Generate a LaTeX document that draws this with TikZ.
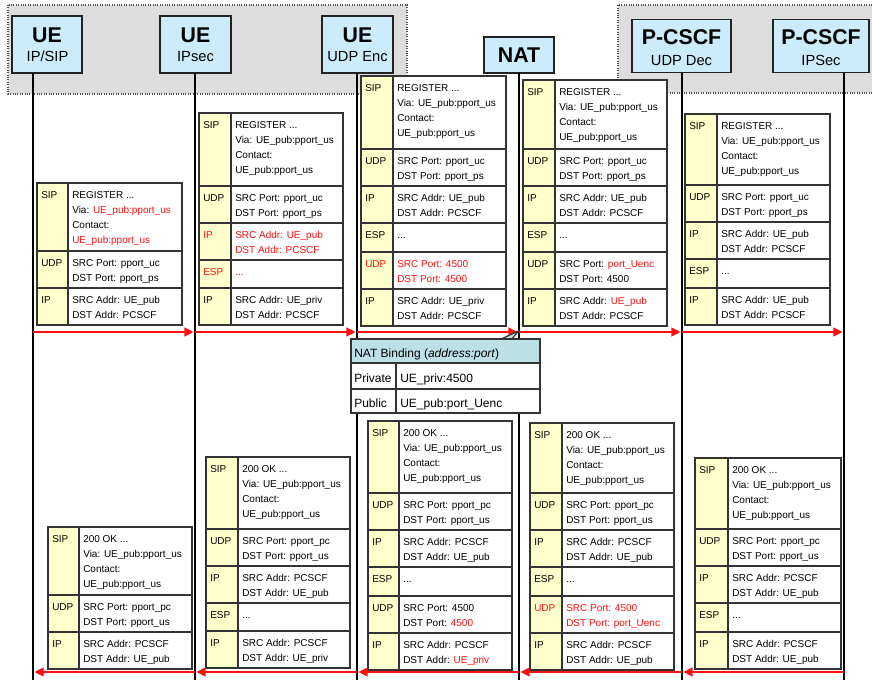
\documentclass[tikz,border=0pt]{standalone}
\usepackage{fontspec}
\setmainfont{Liberation Sans}
\usetikzlibrary{arrows.meta}

\definecolor{hdrblue}{HTML}{CCECFB}
\definecolor{hdrline}{HTML}{222222}
\definecolor{zonegray}{HTML}{DDDDDD}
\definecolor{zoneline}{HTML}{555555}
\definecolor{labyellow}{HTML}{FFFFCC}
\definecolor{cellline}{HTML}{333333}
\definecolor{msgred}{HTML}{FF1010}
\definecolor{natteal}{HTML}{BCE0E4}

\newcommand\pktfont{\fontsize{7.5}{9}\selectfont}
\newcommand\rd[1]{\textcolor{msgred}{#1}}
\newcommand\ddd{...}
\newcount\txtno

% column edges of the packet box being drawn: left, label/content split, right
\newcommand\pktcols[3]{\def\pxl{#1}\def\pxm{#2}\def\pxr{#3}}
% one protocol layer: top, bottom, text style, layer name, content lines
\newcommand\prow[5]{%
  \path[labcell] (\pxl,#1) rectangle (\pxm,#2);
  \path[txtcell] (\pxm,#1) rectangle (\pxr,#2);
  \global\advance\txtno by 1
  \node[pkttext,#3] (txt\the\txtno) at (\pxl+4,#1+16) {#4};
  \foreach \pline [count=\i from 0] in {#5}{%
    \global\advance\txtno by 1
    \node[pkttext,#3] (txt\the\txtno) at (\pxm+4,#1+16+15*\i) {\pline};
  }%
}

\tikzset{
  zone/.style={fill=zonegray, draw=zoneline, line width=0.8pt, densely dotted},
  zoneedge/.style={draw=zoneline, line width=0.8pt, densely dotted},
  hdr/.style={draw=hdrline, line width=1.1pt, fill=hdrblue, inner sep=0pt},
  ttl/.style={anchor=base, inner sep=0pt, font=\bfseries\fontsize{16}{18}\selectfont},
  sub/.style={anchor=base, inner sep=0pt, font=\fontsize{11}{13}\selectfont},
  life/.style={draw=black, line width=1.3pt},
  msg/.style={draw=msgred, line width=2pt, -{Triangle[length=7pt,width=6.5pt]}, shorten >=1pt},
  labcell/.style={draw=cellline, line width=0.9pt, fill=labyellow},
  txtcell/.style={draw=cellline, line width=0.9pt, fill=white},
  pkttext/.style={anchor=base west, inner sep=0pt, font=\pktfont},
  hot/.style={text=msgred},
  natcell/.style={draw=cellline, line width=0.9pt, fill=white},
  nattext/.style={anchor=base west, inner sep=0pt, font=\fontsize{9}{11}\selectfont},
}

\begin{document}
\begin{tikzpicture}[x=0.75pt, y=-0.75pt]
\useasboundingbox (0,0) rectangle (872,680);

% client side and server side groupings
\path[zone] (8,5) rectangle (407,94);
\fill[zonegray] (618,5) rectangle (872,93);
\path[zoneedge] (872,5) -- (618,5) -- (618,93) -- (872,93);

% entities
\node[hdr, minimum width=52.5pt, minimum height=42.75pt] (ue1) at (47,44.5) {};
\node[hdr, minimum width=53.25pt, minimum height=42.75pt] (ue2) at (195.5,44.5) {};
\node[hdr, minimum width=53.25pt, minimum height=42.75pt] (ue3) at (357.5,44.5) {};
\node[hdr, minimum width=52.5pt, minimum height=27pt] (nat) at (519,55) {};
\node[hdr, minimum width=74.25pt, minimum height=40pt] (pc1) at (681.5,46) {};
\node[hdr, minimum width=72pt, minimum height=40pt] (pc2) at (821,46) {};

\node[ttl] (ue1-t) at (47,43) {UE};
\node[sub] (ue1-s) at (47.5,62) {IP/SIP};
\node[ttl] (ue2-t) at (195.5,43) {UE};
\node[sub] (ue2-s) at (195.5,62) {IPsec};
\node[ttl] (ue3-t) at (357.5,43) {UE};
\node[sub] (ue3-s) at (357.5,62) {UDP Enc};
\node[ttl] (nat-t) at (519,63) {NAT};
\node[ttl] (pc1-t) at (681.5,45) {P-CSCF};
\node[sub] (pc1-s) at (681.5,66) {UDP Dec};
\node[ttl] (pc2-t) at (821,45) {P-CSCF};
\node[sub] (pc2-s) at (821,66) {IPSec};

% lifelines
\foreach \n/\x in {ue1/33, ue2/195, ue3/357, nat/519, pc1/682, pc2/844}{
  \coordinate (\n-top) at (\x,73);
  \coordinate (\n-end) at (\x,680);
  \coordinate (\n-req) at (\x,332);
  \coordinate (\n-rsp) at (\x,672);
}
\foreach \n in {ue1, ue2, ue3, nat, pc1, pc2}
  \draw[life] (\n-top) -- (\n-end);

% REGISTER, hop by hop
\pktcols{37}{68}{182}
\prow{183}{251}{}{SIP}{REGISTER \ddd, Via: \rd{UE\_pub:pport\_us}, Contact:, \rd{UE\_pub:pport\_us}}
\prow{251}{288}{}{UDP}{SRC Port: pport\_uc, DST Port: pport\_ps}
\prow{288}{325}{}{IP}{SRC Addr: UE\_pub, DST Addr: PCSCF}

\pktcols{199}{231}{343}
\prow{113}{186}{}{SIP}{REGISTER \ddd, Via: UE\_pub:pport\_us, Contact:, UE\_pub:pport\_us}
\prow{186}{223}{}{UDP}{SRC Port: pport\_uc, DST Port: pport\_ps}
\prow{223}{260}{hot}{IP}{SRC Addr: UE\_pub, DST Addr: PCSCF}
\prow{260}{288}{hot}{ESP}{\ddd}
\prow{288}{325}{}{IP}{SRC Addr: UE\_priv, DST Addr: PCSCF}

\pktcols{361}{393}{506}
\prow{76}{149}{}{SIP}{REGISTER \ddd, Via: UE\_pub:pport\_us, Contact:, UE\_pub:pport\_us}
\prow{149}{186}{}{UDP}{SRC Port: pport\_uc, DST Port: pport\_ps}
\prow{186}{223}{}{IP}{SRC Addr: UE\_pub, DST Addr: PCSCF}
\prow{223}{252}{}{ESP}{\ddd}
\prow{252}{289}{hot}{UDP}{SRC Port: 4500, DST Port: 4500}
\prow{289}{326}{}{IP}{SRC Addr: UE\_priv, DST Addr: PCSCF}

\pktcols{523}{555}{667}
\prow{80}{149}{}{SIP}{REGISTER \ddd, Via: UE\_pub:pport\_us, Contact:, UE\_pub:pport\_us}
\prow{149}{186}{}{UDP}{SRC Port: pport\_uc, DST Port: pport\_ps}
\prow{186}{223}{}{IP}{SRC Addr: UE\_pub, DST Addr: PCSCF}
\prow{223}{252}{}{ESP}{\ddd}
\prow{252}{289}{}{UDP}{SRC Port: \rd{port\_Uenc}, DST Port: 4500}
\prow{289}{326}{}{IP}{SRC Addr: \rd{UE\_pub}, DST Addr: PCSCF}

\pktcols{685}{717}{830}
\prow{114}{185}{}{SIP}{REGISTER \ddd, Via: UE\_pub:pport\_us, Contact:, UE\_pub:pport\_us}
\prow{185}{222}{}{UDP}{SRC Port: pport\_uc, DST Port: pport\_ps}
\prow{222}{259}{}{IP}{SRC Addr: UE\_pub, DST Addr: PCSCF}
\prow{259}{288}{}{ESP}{\ddd}
\prow{288}{325}{}{IP}{SRC Addr: UE\_pub, DST Addr: PCSCF}

\draw[msg] (ue1-req) -- (ue2-req);
\draw[msg] (ue2-req) -- (ue3-req);
\draw[msg] (ue3-req) -- (nat-req);
\draw[msg] (nat-req) -- (pc1-req);
\draw[msg] (pc1-req) -- (pc2-req);

% 200 OK, hop by hop
\pktcols{48}{79}{192}
\prow{527}{595}{}{SIP}{200 OK \ddd, Via: UE\_pub:pport\_us, Contact:, UE\_pub:pport\_us}
\prow{595}{632}{}{UDP}{SRC Port: pport\_pc, DST Port: pport\_us}
\prow{632}{669}{}{IP}{SRC Addr: PCSCF, DST Addr: UE\_pub}

\pktcols{206}{238}{350}
\prow{457}{529}{}{SIP}{200 OK \ddd, Via: UE\_pub:pport\_us, Contact:, UE\_pub:pport\_us}
\prow{529}{566}{}{UDP}{SRC Port: pport\_pc, DST Port: pport\_us}
\prow{566}{603}{}{IP}{SRC Addr: PCSCF, DST Addr: UE\_pub}
\prow{603}{631}{}{ESP}{\ddd}
\prow{631}{668}{}{IP}{SRC Addr: PCSCF, DST Addr: UE\_priv}

\pktcols{368}{399}{512}
\prow{421}{493}{}{SIP}{200 OK \ddd, Via: UE\_pub:pport\_us, Contact:, UE\_pub:pport\_us}
\prow{493}{530}{}{UDP}{SRC Port: pport\_pc, DST Port: pport\_us}
\prow{530}{567}{}{IP}{SRC Addr: PCSCF, DST Addr: UE\_pub}
\prow{567}{596}{}{ESP}{\ddd}
\prow{596}{633}{}{UDP}{SRC Port: 4500, DST Port: \rd{4500}}
\prow{633}{670}{}{IP}{SRC Addr: PCSCF, DST Addr: \rd{UE\_priv}}

\pktcols{530}{562}{674}
\prow{423}{493}{}{SIP}{200 OK \ddd, Via: UE\_pub:pport\_us, Contact:, UE\_pub:pport\_us}
\prow{493}{530}{}{UDP}{SRC Port: pport\_pc, DST Port: pport\_us}
\prow{530}{567}{}{IP}{SRC Addr: PCSCF, DST Addr: UE\_pub}
\prow{567}{596}{}{ESP}{\ddd}
\prow{596}{633}{hot}{UDP}{SRC Port: 4500, DST Port: port\_Uenc}
\prow{633}{670}{}{IP}{SRC Addr: PCSCF, DST Addr: UE\_pub}

\pktcols{695}{728}{841}
\prow{458}{529}{}{SIP}{200 OK \ddd, Via: UE\_pub:pport\_us, Contact:, UE\_pub:pport\_us}
\prow{529}{566}{}{UDP}{SRC Port: pport\_pc, DST Port: pport\_us}
\prow{566}{603}{}{IP}{SRC Addr: PCSCF, DST Addr: UE\_pub}
\prow{603}{632}{}{ESP}{\ddd}
\prow{632}{669}{}{IP}{SRC Addr: PCSCF, DST Addr: UE\_pub}

\draw[msg] (pc2-rsp) -- (pc1-rsp);
\draw[msg] (pc1-rsp) -- (nat-rsp);
\draw[msg] (nat-rsp) -- (ue3-rsp);
\draw[msg] (ue3-rsp) -- (ue2-rsp);
\draw[msg] (ue2-rsp) -- (ue1-rsp);

% NAT binding table with its pointer to the NAT
\path[natcell, fill=natteal] (499,340) -- (518.5,331) -- (511,340) -- cycle;
\path[natcell, fill=natteal] (351,339) rectangle (540,363);
\path[natcell] (351,363) rectangle (396,389);
\path[natcell] (396,363) rectangle (540,389);
\path[natcell] (351,389) rectangle (396,413);
\path[natcell] (396,389) rectangle (540,413);
\node[nattext] (bind-t) at (354,358) {NAT Binding (\textit{address:port})};
\node[nattext] (priv-k) at (354,383) {Private};
\node[nattext] (priv-v) at (400,383) {UE\_priv:4500};
\node[nattext] (pub-k) at (354,408) {Public};
\node[nattext] (pub-v) at (400,408) {UE\_pub:port\_Uenc};
\end{tikzpicture}
\end{document}
